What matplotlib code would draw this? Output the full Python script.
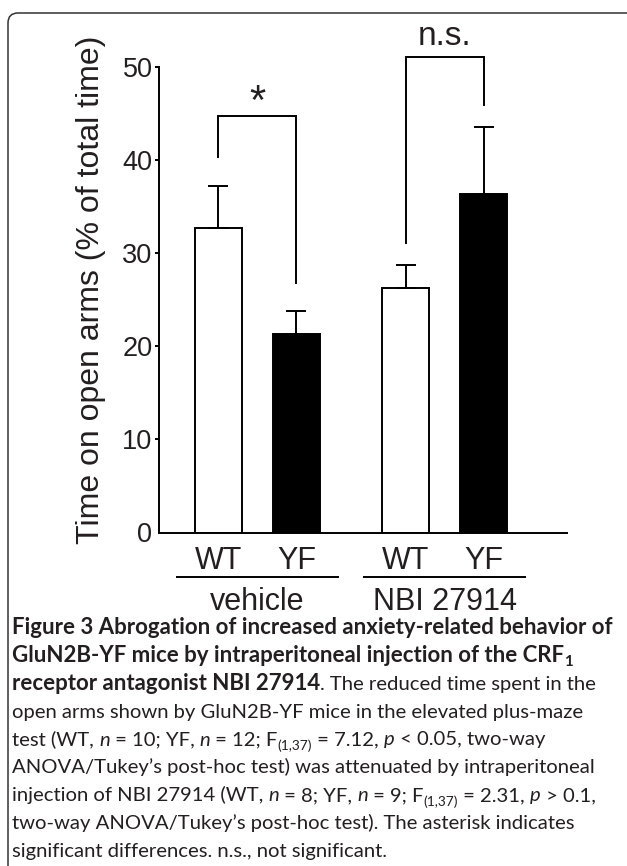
import matplotlib
matplotlib.use("Agg")
import matplotlib.pyplot as plt
from matplotlib.patches import FancyBboxPatch
from matplotlib.transforms import IdentityTransform
import numpy as np

# ---------------- data ----------------
genotypes = ["WT", "YF", "WT", "YF"]
groups = ["vehicle", "NBI 27914"]
positions = [0.0, 1.0, 2.4, 3.4]
means = [32.7, 21.3, 26.2, 36.3]
sems = [4.5, 2.5, 2.5, 7.2]
bar_colors = ["white", "black", "white", "black"]
yticks = [0, 10, 20, 30, 40, 50]
ylabel = "Time on open arms (% of total time)"
# significance brackets: (left x, right x, top y, left leg bottom, right leg bottom, label)
brackets = [
    (0.0, 1.0, 44.7, 40.3, 26.8, "*"),
    (2.4, 3.4, 51.0, 31.1, 45.9, "n.s."),
]

caption_lines = [
    [("Figure 3 Abrogation of increased anxiety-related behavior of", "b")],
    [("GluN2B-YF mice by intraperitoneal injection of the CRF", "b"), ("1", "bsub")],
    [("receptor antagonist NBI 27914", "b"), (". The reduced time spent in the", "r")],
    [("open arms shown by GluN2B-YF mice in the elevated plus-maze", "r")],
    [("test (WT, ", "r"), ("n", "i"), (" = 10; YF, ", "r"), ("n", "i"), (" = 12; F", "r"),
     ("(1,37)", "sub"), (" = 7.12, ", "r"), ("p", "i"), (" < 0.05, two-way", "r")],
    [("ANOVA/Tukey\u2019s post-hoc test) was attenuated by intraperitoneal", "r")],
    [("injection of NBI 27914 (WT, ", "r"), ("n", "i"), (" = 8; YF, ", "r"), ("n", "i"),
     (" = 9; F", "r"), ("(1,37)", "sub"), (" = 2.31, ", "r"), ("p", "i"), (" > 0.1,", "r")],
    [("two-way ANOVA/Tukey\u2019s post-hoc test). The asterisk indicates", "r")],
    [("significant differences. n.s., not significant.", "r")],
]

# ---------------- figure ----------------
W, H = 627, 866
fig = plt.figure(figsize=(W / 100, H / 100), dpi=100)
fig.patch.set_facecolor("white")
ink = "#231f20"
chart_font = "Liberation Sans"

def fx(px):
    return px / W

def fy(py):
    return 1 - py / H

ax_l, ax_r, ax_b, ax_t = 159, 567, 532.5, 66.7
ax = fig.add_axes([fx(ax_l), fy(ax_b), (ax_r - ax_l) / W, (ax_b - ax_t) / H])
ax.set_xlim(-0.763, 4.47)
ax.set_ylim(0, 50)
ax.patch.set_alpha(0)

lw = 1.4
ax.bar(positions, means, width=0.6, color=bar_colors, edgecolor="black", linewidth=lw, zorder=2)
ax.errorbar(positions, means, yerr=[np.zeros(len(sems)), sems], fmt="none", ecolor="black",
            elinewidth=lw, capsize=7.0, capthick=lw, zorder=3)

for s in ["top", "right"]:
    ax.spines[s].set_visible(False)
for s in ["left", "bottom"]:
    ax.spines[s].set_linewidth(lw)
    ax.spines[s].set_color("black")

ax.set_yticks(yticks)
ax.set_yticklabels([str(v) for v in yticks], fontsize=19.5, family=chart_font, color=ink)
ax.tick_params(axis="y", direction="out", length=3.2, width=lw, pad=1.5, colors="black", labelcolor=ink)
ax.yaxis.get_major_ticks()[0].tick1line.set_visible(False)
ax.set_xticks([])

ax.set_ylabel(ylabel, fontsize=23, family=chart_font, color=ink)
ax.yaxis.set_label_coords((91 - ax_l) / (ax_r - ax_l), (ax_b - 290) / (ax_b - ax_t))
ax.yaxis.label.set_va("center")

ppu = (ax_b - ax_t) / 50.0  # pixels per data unit
def dy(py):
    return (ax_b - py) / ppu

# genotype labels
for p, g in zip(positions, genotypes):
    ax.text(p, dy(569), g, ha="center", va="baseline", fontsize=22, family=chart_font,
            color=ink, clip_on=False)
# group lines and labels
for gi, gname in enumerate(groups):
    c = (positions[2 * gi] + positions[2 * gi + 1]) / 2
    ax.plot([c - 1.045, c + 1.045], [dy(577)] * 2, color="black", lw=lw, clip_on=False,
            solid_capstyle="butt")
    ax.text(c, dy(610), gname, ha="center", va="baseline", fontsize=22, family=chart_font,
            color=ink, clip_on=False)

# significance brackets
for (xl, xr, top, lb, rb, lab) in brackets:
    ax.plot([xl, xl, xr, xr], [lb, top, top, rb], color="black", lw=lw, clip_on=False,
            solid_joinstyle="miter")
    c = (xl + xr) / 2
    if lab == "*":
        ax.text(c, top + 0.2, lab, ha="center", va="baseline", fontsize=30, family=chart_font,
                color=ink, clip_on=False)
    else:
        ax.text(c, top + 1.3, lab, ha="center", va="baseline", fontsize=24, family=chart_font,
                color=ink, clip_on=False)

# ---------------- frame ----------------
frame = FancyBboxPatch((8, -40), 640, H - 13 + 40, boxstyle="round,pad=0,rounding_size=10",
                       transform=IdentityTransform(), fill=False, edgecolor="#333333", linewidth=1.1)
fig.add_artist(frame)

# ---------------- caption ----------------
renderer = fig.canvas.get_renderer()
cap_font = "Lato"
sizes = {}

def style_kw(st):
    kw = dict(family=cap_font, color=ink)
    if st in ("b", "bsub"):
        kw["fontweight"] = "bold"
        size = sizes["b"]
    else:
        size = sizes["r"]
    if st == "i":
        kw["fontstyle"] = "italic"
    if st in ("sub", "bsub"):
        size = size * 0.68
    kw["fontsize"] = size
    return kw

def text_width(s, kw):
    t = fig.text(0, 0, s + "|", **kw)
    w1 = t.get_window_extent(renderer).width
    t.set_text("|")
    w2 = t.get_window_extent(renderer).width
    t.remove()
    return w1 - w2

x0 = 12
base = 14.0
wb = text_width(caption_lines[0][0][0], dict(family=cap_font, fontsize=base, fontweight="bold"))
sizes["b"] = base * (614 - x0) / wb
wr = text_width(caption_lines[3][0][0], dict(family=cap_font, fontsize=base))
sizes["r"] = base * (584 - x0) / wr

base_first, base_last = 634, 857
step = (base_last - base_first) / (len(caption_lines) - 1)
for li, line in enumerate(caption_lines):
    yb = base_first + li * step
    x = x0
    for s, st in line:
        kw = style_kw(st)
        y = yb
        if st in ("sub", "bsub"):
            y = yb + sizes["r"] * 100 / 72 * 0.22
        fig.text(fx(x), fy(y), s, ha="left", va="baseline", **kw)
        x += text_width(s, kw)

fig.savefig("out.png", dpi=100, facecolor="white")
